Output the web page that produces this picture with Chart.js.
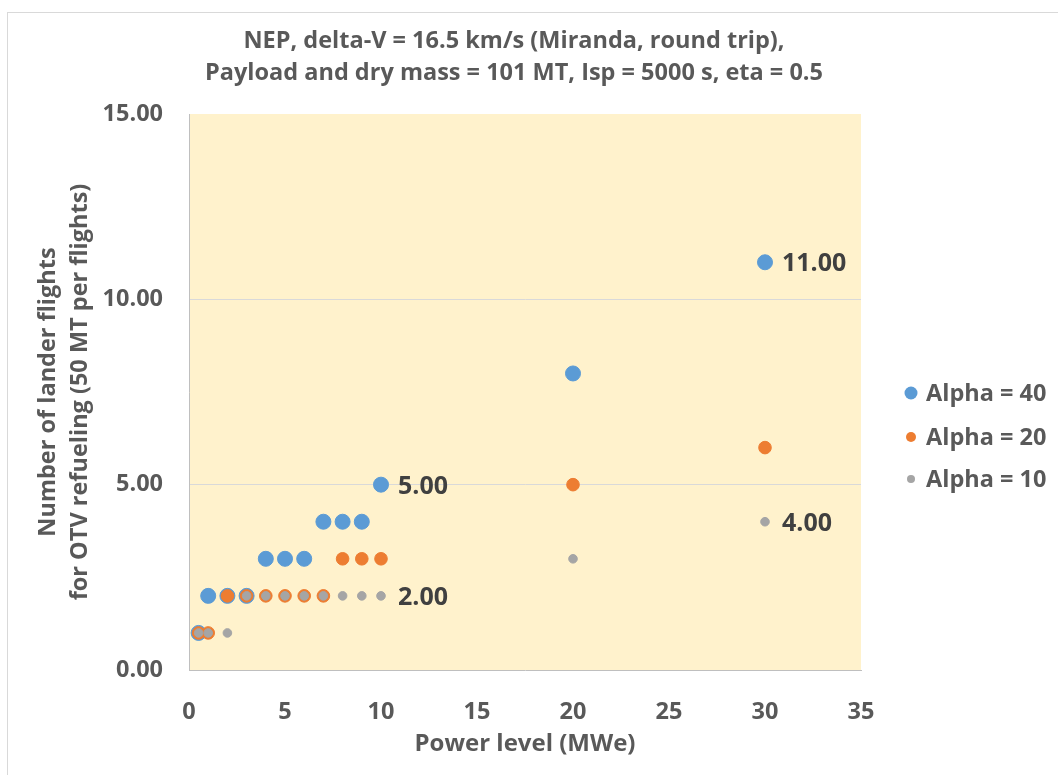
<!DOCTYPE html>
<html>
<head>
<meta charset="utf-8">
<script src="https://cdn.jsdelivr.net/npm/chart.js@4.4.1/dist/chart.umd.min.js"></script>
<style>
  html, body { margin: 0; padding: 0; background: #fff; }
  #wrap { width: 1058px; height: 775px; position: relative; }
</style>
</head>
<body>
<div id="wrap"><canvas id="chart"></canvas></div>
<script>
// NEP lander flights vs power level — scatter with three alpha series.

const POWER_LEVELS = [0.5, 1, 2, 3, 4, 5, 6, 7, 8, 9, 10, 20, 30];
const FLIGHTS_ALPHA40 = [1, 2, 2, 2, 3, 3, 3, 4, 4, 4, 5, 8, 11];
const FLIGHTS_ALPHA20 = [1, 1, 2, 2, 2, 2, 2, 2, 3, 3, 3, 5, 6];
const FLIGHTS_ALPHA10 = [1, 1, 1, 2, 2, 2, 2, 2, 2, 2, 2, 3, 4];

const SERIES_NAMES = ['Alpha = 40', 'Alpha = 20', 'Alpha = 10'];
const SERIES_COLORS = ['#5B9BD5', '#ED7D31', '#A5A5A5'];

// power levels where a value label is shown, per series
const LABELS_AT = [[10, 30], [], [10, 30]];

const TITLE_LINES = [
    'NEP, delta-V = 16.5 km/s (Miranda, round trip),',
    'Payload and dry mass = 101 MT, Isp = 5000 s, eta = 0.5'
];
const Y_TITLE = ['Number of lander flights', 'for OTV refueling (50 MT per flights)'];
const X_TITLE = 'Power level (MWe)';

const FONT = '"Open Sans", "Noto Sans", sans-serif';
const TEXT_COLOR = '#595959';

function toPoints(ys) {
    return POWER_LEVELS.map((x, i) => ({ x, y: ys[i] }));
}

const pointSizes = [7.5, 6.3, 4.3];
const legendSizes = [6.5, 5, 4];

const datasets = [FLIGHTS_ALPHA40, FLIGHTS_ALPHA20, FLIGHTS_ALPHA10].map((ys, i) => ({
    label: SERIES_NAMES[i],
    data: toPoints(ys),
    backgroundColor: SERIES_COLORS[i],
    borderColor: SERIES_COLORS[i],
    borderWidth: 1,
    pointRadius: pointSizes[i],
    pointHoverRadius: pointSizes[i],
    order: 3 - i
}));

const framePlugin = {
    id: 'frame',
    beforeDraw(chart) {
        const { ctx, chartArea: a } = chart;
        ctx.save();
        ctx.fillStyle = '#fff';
        ctx.fillRect(0, 0, chart.width, chart.height);
        ctx.strokeStyle = '#D9D9D9';
        ctx.lineWidth = 1;
        ctx.strokeRect(7.5, 12.5, chart.width + 10, chart.height + 10);
        ctx.fillStyle = '#FFF2CC';
        ctx.fillRect(a.left, a.top, a.right - a.left, a.bottom - a.top);
        ctx.restore();
    }
};

// title centred on the whole frame, not just the plot
const titlePlugin = {
    id: 'frameTitle',
    afterDraw(chart) {
        const { ctx } = chart;
        ctx.save();
        ctx.font = 'bold 23.5px ' + FONT;
        ctx.fillStyle = TEXT_COLOR;
        ctx.textAlign = 'center';
        ctx.textBaseline = 'middle';
        TITLE_LINES.forEach((line, i) => ctx.fillText(line, 514, 41 + i * 32));
        ctx.restore();
    }
};

const valueLabelPlugin = {
    id: 'valueLabels',
    afterDatasetsDraw(chart) {
        const { ctx } = chart;
        ctx.save();
        ctx.font = 'bold 25px ' + FONT;
        ctx.fillStyle = '#404040';
        ctx.textAlign = 'left';
        ctx.textBaseline = 'middle';
        chart.data.datasets.forEach((ds, di) => {
            const meta = chart.getDatasetMeta(di);
            LABELS_AT[di].forEach(px => {
                const idx = ds.data.findIndex(p => p.x === px);
                if (idx < 0) return;
                const el = meta.data[idx];
                ctx.fillText(ds.data[idx].y.toFixed(2), el.x + 17, el.y + 2);
            });
        });
        ctx.restore();
    }
};

const legendPlugin = {
    id: 'sideLegend',
    afterDraw(chart) {
        const { ctx } = chart;
        const rows = [393, 437, 479];
        ctx.save();
        ctx.font = 'bold 23.5px ' + FONT;
        ctx.textAlign = 'left';
        ctx.textBaseline = 'middle';
        SERIES_NAMES.forEach((name, i) => {
            ctx.fillStyle = SERIES_COLORS[i];
            ctx.beginPath();
            ctx.arc(911, rows[i], legendSizes[i], 0, Math.PI * 2);
            ctx.fill();
            ctx.fillStyle = TEXT_COLOR;
            ctx.fillText(name, 926, rows[i] + 1);
        });
        ctx.restore();
    }
};

new Chart(document.getElementById('chart'), {
    type: 'scatter',
    data: { datasets },
    options: {
        responsive: true,
        maintainAspectRatio: false,
        animation: false,
        layout: { padding: { top: 114, right: 197, bottom: 0, left: 0 } },
        plugins: {
            legend: { display: false },
            tooltip: { enabled: false },
            title: { display: false }
        },
        scales: {
            x: {
                type: 'linear',
                min: 0,
                max: 35,
                ticks: {
                    stepSize: 5,
                    padding: 28,
                    color: TEXT_COLOR,
                    font: { family: FONT, size: 23.5, weight: 'bold' }
                },
                grid: { display: false, drawTicks: false },
                border: { display: true, color: '#BFBFBF', width: 1 },
                title: {
                    display: true,
                    text: X_TITLE,
                    color: TEXT_COLOR,
                    font: { family: FONT, size: 24, weight: 'bold' },
                    padding: { top: 0, bottom: 16 }
                },
                afterFit(scale) { scale.height = 105; }
            },
            y: {
                min: 0,
                max: 15,
                ticks: {
                    stepSize: 5,
                    padding: 26,
                    color: TEXT_COLOR,
                    font: { family: FONT, size: 23.5, weight: 'bold' },
                    callback: v => v.toFixed(2)
                },
                grid: {
                    drawTicks: false,
                    color: ctx => (ctx.tick && (ctx.tick.value === 5 || ctx.tick.value === 10)) ? '#D9D9D9' : 'rgba(0,0,0,0)'
                },
                border: { display: true, color: '#BFBFBF', width: 1 },
                title: {
                    display: true,
                    text: Y_TITLE,
                    color: TEXT_COLOR,
                    font: { family: FONT, size: 23.5, weight: 'bold', lineHeight: 1.36 },
                    padding: { top: 32, bottom: 0 }
                },
                afterFit(scale) { scale.width = 189; }
            }
        }
    },
    plugins: [framePlugin, titlePlugin, valueLabelPlugin, legendPlugin]
});
</script>
</body>
</html>
